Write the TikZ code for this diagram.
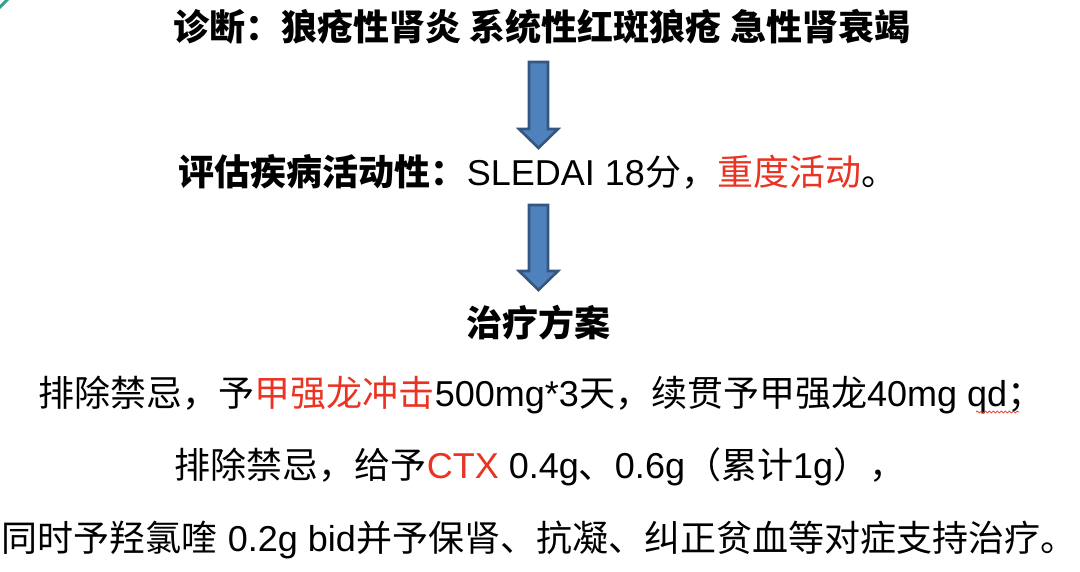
\documentclass[tikz,border=0pt]{standalone}
\usepackage{fontspec}
\setmainfont{Liberation Sans}
\newfontfamily\zhfont{Noto Sans CJK SC}
\usetikzlibrary{decorations.pathmorphing}
\newcommand{\zh}[1]{{\zhfont #1}}
\newcommand{\zhb}[1]{{\zhfont\bfseries #1}}
\definecolor{hlred}{RGB}{234,51,35}
\definecolor{arrfill}{RGB}{79,129,189}
\definecolor{arrline}{RGB}{52,86,128}
\definecolor{tealc}{RGB}{58,158,142}
\begin{document}
\begin{tikzpicture}[x=1pt,y=-1pt,
  txt/.style={inner sep=0pt,font=\fontsize{36}{43}\selectfont},
  btxt/.style={txt,font=\fontsize{36}{43}\selectfont\bfseries},
  blockarrow/.style={fill=arrfill,draw=arrline,line width=2.6pt,line join=miter}]
\useasboundingbox[fill=white] (0,0) rectangle (1080,572);
\draw[tealc,line width=3pt] (-2,9) -- (9,-2);
% text lines
\node[btxt] (l1) at (542,27) {\zh{诊断：狼疮性肾炎 系统性红斑狼疮 急性肾衰竭}};
\node[txt] (l2) at (538,172) {\zhb{评估疾病活动性：}SLEDAI 18\zh{分，}\textcolor{hlred}{\zh{重度活动}}\zh{。}};
\node[btxt] (l3) at (538,323) {\zh{治疗方案}};
\node[txt] (l4) at (541,395) {\zh{排除禁忌，予}\textcolor{hlred}{\zh{甲强龙冲击}}500mg*3\zh{天，续贯予甲强龙}40mg qd\zh{；}};
\node[txt] (l5) at (540,467) {\zh{排除禁忌，给予}\textcolor{hlred}{CTX} 0.4g\zh{、}0.6g\zh{（累计}1g\zh{），}};
\node[txt] (l6) at (539,540) {\zh{同时予羟氯喹} 0.2g bid\zh{并予保肾、抗凝、纠正贫血等对症支持治疗。}};
% block arrows
\draw[blockarrow] (529,62) -- (548,62) -- (548,129) -- (558,129) -- (538.5,148) -- (519,129) -- (529,129) -- cycle;
\draw[blockarrow] (529,205) -- (548,205) -- (548,271) -- (558,271) -- (538.5,290) -- (519,271) -- (529,271) -- cycle;
% spell-check squiggle under qd
\draw[hlred,line width=0.7pt,decorate,decoration={snake,amplitude=1pt,segment length=4pt}] (976,412) -- (1019,412);
\end{tikzpicture}
\end{document}
